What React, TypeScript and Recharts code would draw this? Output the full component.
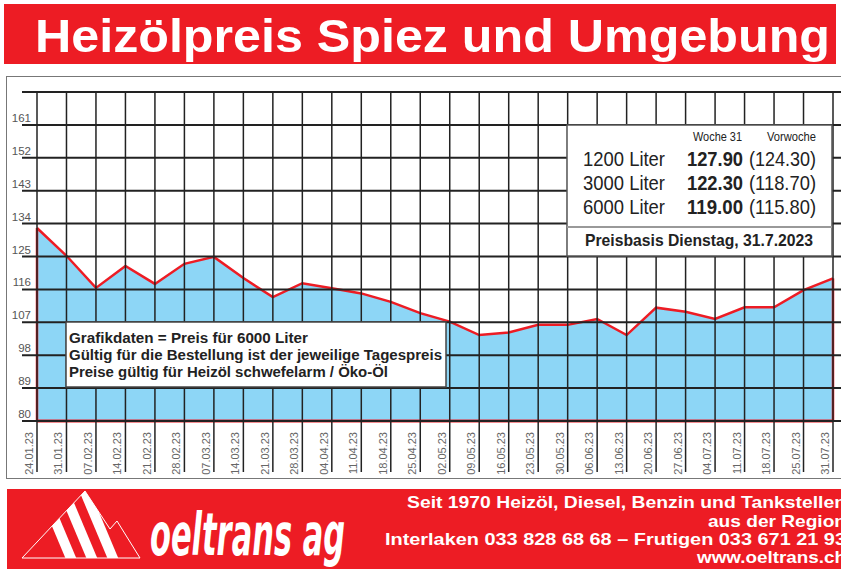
import React from 'react';
import { ComposedChart, Area, Line, XAxis, YAxis, ReferenceLine } from 'recharts';

// weekly price per 100 l (6000 Liter)
const dates = [
  '24.01.23', '31.01.23', '07.02.23', '14.02.23', '21.02.23', '28.02.23', '07.03.23',
  '14.03.23', '21.03.23', '28.03.23', '04.04.23', '11.04.23', '18.04.23', '25.04.23',
  '02.05.23', '09.05.23', '16.05.23', '23.05.23', '30.05.23', '06.06.23', '13.06.23',
  '20.06.23', '27.06.23', '04.07.23', '11.07.23', '18.07.23', '25.07.23', '31.07.23',
];
const prices = [
  132.8, 125.2, 116.4, 122.4, 117.5, 123.0, 124.9,
  119.1, 113.9, 117.7, 116.3, 114.9, 112.6, 109.5,
  107.2, 103.5, 104.2, 106.3, 106.3, 107.9, 103.5,
  111.0, 109.9, 107.9, 111.1, 111.1, 115.8, 119.0,
];
const yTicks = [80, 89, 98, 107, 116, 125, 134, 143, 152, 161, 170];

const volumes = ['1200 Liter', '3000 Liter', '6000 Liter'];
const currentWeek = ['127.90', '122.30', '119.00'];
const previousWeek = ['124.30', '118.70', '115.80'];

const noteLines = [
  'Grafikdaten = Preis für 6000 Liter',
  'Gültig für die Bestellung ist der jeweilige Tagespreis',
  'Preise gültig für Heizöl schwefelarm / Öko-Öl',
];
const footerLines = [
  'Seit 1970 Heizöl, Diesel, Benzin und Tankstellen',
  'aus der Region',
  'Interlaken 033 828 68 68 – Frutigen 033 671 21 93',
  'www.oeltrans.ch',
];

const RED = '#ed1c24';
const BLUE = '#8dd6f6';
const GRID = '#222';
const W = 841;
const H = 569;
const PLOT_TOP = 92;
const PLOT_BOTTOM = 421;
const LABEL_TOP = 432;
const LABEL_BOTTOM = 472;
const SANS = "'Liberation Sans', Arial, sans-serif";

const data = dates.map((date, i) => ({ date, price: prices[i] }));

const YTick = (props: any) => {
  const { y, payload } = props;
  const v = payload.value;
  return (
    <g>
      <line x1={22} x2={W} y1={y} y2={y} stroke={GRID} strokeWidth={2} />
      {v < 170 && (
        <text x={31} y={y - 3} textAnchor="end" fontSize={11.5} fill="#555" fontFamily={SANS}>
          {v}
        </text>
      )}
    </g>
  );
};

const XTick = (props: any) => {
  const { x, payload } = props;
  return (
    <g>
      <line x1={x} x2={x} y1={PLOT_TOP} y2={LABEL_BOTTOM} stroke={GRID} strokeWidth={1.5} />
      <text
        transform={`translate(${x - 4},${LABEL_TOP}) rotate(-90)`}
        textAnchor="end"
        fontSize={11}
        fill="#666"
        fontFamily={SANS}
      >
        {payload.value}
      </text>
    </g>
  );
};

// red edges down to the base at first and last point
const EdgeDot = (props: any) => {
  const { cx, cy, index } = props;
  if (index !== 0 && index !== dates.length - 1) return <g key={index} />;
  return <line key={index} x1={cx} x2={cx} y1={cy} y2={PLOT_BOTTOM} stroke={RED} strokeWidth={2.5} />;
};

// squeezed text, since no condensed face is installed
const Fit = ({ x, y, w, size, bold, fill = '#222', children }: any) => (
  <text
    x={x}
    y={y}
    textLength={w}
    lengthAdjust="spacingAndGlyphs"
    fontSize={size}
    fontWeight={bold ? 'bold' : 'normal'}
    fill={fill}
    fontFamily={SANS}
  >
    {children}
  </text>
);

function Overlay() {
  const tri = '22,558 85,491 110,529 117,521 140,558';
  const rowBase = [166, 190, 214];
  const footBase = [508, 527, 545, 563];
  const footX = [407, 708, 385, 697];
  return (
    <svg width={W} height={H} style={{ position: 'absolute', left: 0, top: 0, pointerEvents: 'none' }}>
      {/* title banner */}
      <rect x={4} y={4} width={832} height={60} fill={RED} />
      <Fit x={35} y={52} w={795} size={47} bold fill="#fff">Heizölpreis Spiez und Umgebung</Fit>

      {/* price box */}
      <rect x={567} y={125} width={265} height={131} fill="#fff" stroke="#555" strokeWidth={1.5} />
      <line x1={567} x2={832} y1={227} y2={227} stroke="#999" strokeWidth={2} />
      <Fit x={693} y={141} w={49} size={12.5}>Woche 31</Fit>
      <Fit x={767} y={141} w={49} size={12.5}>Vorwoche</Fit>
      {volumes.map((v, i) => (
        <g key={v}>
          <Fit x={583} y={rowBase[i]} w={82} size={21}>{v}</Fit>
          <Fit x={687} y={rowBase[i]} w={56} size={21} bold>{currentWeek[i]}</Fit>
          <Fit x={749} y={rowBase[i]} w={67} size={21}>({previousWeek[i]})</Fit>
        </g>
      ))}
      <Fit x={585} y={246} w={228} size={16.5} bold>Preisbasis Dienstag, 31.7.2023</Fit>

      {/* note box */}
      <rect x={66} y={322} width={380} height={65} fill="#fff" stroke="#444" strokeWidth={1.5} />
      <Fit x={69} y={343} w={239} size={14} bold>{noteLines[0]}</Fit>
      <Fit x={69} y={360} w={373} size={14} bold>{noteLines[1]}</Fit>
      <Fit x={69} y={377} w={319} size={14} bold>{noteLines[2]}</Fit>

      {/* footer banner */}
      <rect x={7} y={489} width={834} height={80} fill={RED} />
      <defs>
        <clipPath id="tri">
          <polygon points={tri} />
        </clipPath>
      </defs>
      <g clipPath="url(#tri)" stroke="#fff" strokeWidth={10}>
        <line x1={38} x2={75} y1={480} y2={568} />
        <line x1={59} x2={96} y1={480} y2={568} />
        <line x1={80} x2={117} y1={480} y2={568} />
      </g>
      <polygon points={tri} fill="none" stroke="#fff" strokeWidth={1} />
      <text
        x={150}
        y={555}
        fill="#fff"
        fontSize={58}
        fontWeight="bold"
        fontStyle="italic"
        fontFamily="'DejaVu Sans', sans-serif"
        textLength={195}
        lengthAdjust="spacingAndGlyphs"
      >
        oeltrans ag
      </text>
      {footerLines.map((t, i) => (
        <Fit key={t} x={footX[i]} y={footBase[i]} w={846 - footX[i]} size={17} bold fill="#fff">
          {t}
        </Fit>
      ))}
    </svg>
  );
}

export default function App() {
  return (
    <div style={{ position: 'absolute', left: 0, top: 0, width: W, height: H, overflow: 'hidden', background: '#fff', fontFamily: SANS }}>
      {/* frame */}
      <div style={{ position: 'absolute', left: 6, top: 76, width: 850, height: 401, border: '1.5px solid #777' }} />

      <div style={{ position: 'absolute', left: 0, top: 0 }}>
        <ComposedChart width={W} height={H} data={data} margin={{ top: PLOT_TOP, right: 8, bottom: 98, left: 0 }}>
          <Area
            dataKey="price"
            type="linear"
            fill={BLUE}
            fillOpacity={1}
            stroke="none"
            isAnimationActive={false}
          />
          <XAxis
            dataKey="date"
            scale="point"
            interval={0}
            height={50}
            tickLine={false}
            axisLine={false}
            tick={(p: any) => <XTick {...p} />}
          />
          <YAxis
            domain={[80, 170]}
            ticks={yTicks}
            width={37}
            tickLine={false}
            axisLine={false}
            tick={(p: any) => <YTick {...p} />}
          />
          <ReferenceLine y={80} stroke={RED} strokeWidth={3} />
          <Line
            dataKey="price"
            type="linear"
            stroke={RED}
            strokeWidth={2.5}
            dot={(p: any) => <EdgeDot {...p} key={p.index} />}
            activeDot={false}
            isAnimationActive={false}
          />
        </ComposedChart>
      </div>

      <Overlay />
    </div>
  );
}
